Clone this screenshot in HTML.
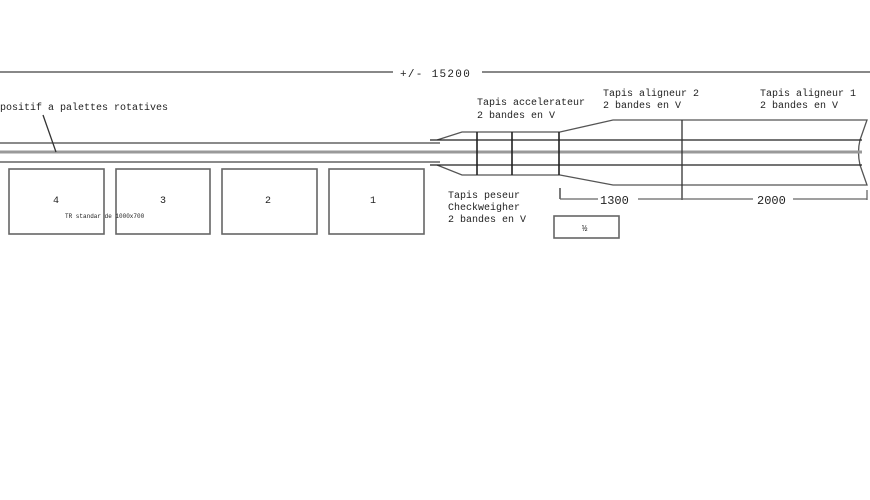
<!DOCTYPE html>
<html><head><meta charset="utf-8"><style>
html,body{margin:0;padding:0;background:#fff;}
svg{display:block}
text{font-family:"Liberation Mono",monospace;fill:#222;}
</style></head><body>
<svg width="870" height="500" viewBox="0 0 870 500" xmlns="http://www.w3.org/2000/svg">
<g stroke="#555" fill="none" stroke-width="1.3">
<line x1="0" y1="72" x2="393" y2="72" stroke="#888" stroke-width="2"/>
<line x1="482" y1="72" x2="870" y2="72" stroke="#888" stroke-width="2"/>
<line x1="0" y1="143" x2="440" y2="143" stroke="#444"/>
<line x1="0" y1="152" x2="440" y2="152" stroke="#999" stroke-width="3"/>
<line x1="0" y1="162" x2="440" y2="162" stroke="#444"/>
<line x1="43" y1="115" x2="56" y2="152" stroke="#333"/>
<rect x="9" y="169" width="95" height="65" stroke="#666" stroke-width="1.6"/>
<rect x="116" y="169" width="94" height="65" stroke="#666" stroke-width="1.6"/>
<rect x="222" y="169" width="95" height="65" stroke="#666" stroke-width="1.6"/>
<rect x="329" y="169" width="95" height="65" stroke="#666" stroke-width="1.6"/>
<polyline points="437,140 462,132 560,132 613,120 867,120 860,140" stroke="#555"/>
<polyline points="437,165 462,175 560,175 613,185 867,185 860,165" stroke="#555"/>
<path d="M860,140 Q857,152 860,165" stroke="#555"/>
<line x1="430" y1="140" x2="862" y2="140" stroke="#222"/>
<line x1="430" y1="152" x2="862" y2="152" stroke="#999" stroke-width="3"/>
<line x1="430" y1="165" x2="862" y2="165" stroke="#222"/>
<line x1="477" y1="132" x2="477" y2="175" stroke="#222" stroke-width="1.6"/>
<line x1="512" y1="132" x2="512" y2="175" stroke="#222" stroke-width="1.6"/>
<line x1="559" y1="132" x2="559" y2="175" stroke="#222" stroke-width="1.6"/>
<line x1="682" y1="120" x2="682" y2="200" stroke="#333"/>
<line x1="560" y1="188" x2="560" y2="199" stroke="#333"/>
<line x1="560" y1="199" x2="867" y2="199" stroke="#666"/>
<line x1="867" y1="190" x2="867" y2="200" stroke="#666"/>
<rect x="554" y="216" width="65" height="22" stroke="#666" stroke-width="1.6"/>
</g>
<rect x="393" y="66" width="89" height="12" fill="#fff"/>
<text x="400" y="77" font-size="11" letter-spacing="1.3">+/- 15200</text>
<rect x="598" y="194" width="40" height="10" fill="#fff"/>
<text x="600" y="204" font-size="12">1300</text>
<rect x="753" y="194" width="40" height="10" fill="#fff"/>
<text x="757" y="204" font-size="12">2000</text>
<text x="0" y="110" font-size="10">positif a palettes rotatives</text>
<g font-size="10" style="font-family:'Liberation Sans',sans-serif">
<text x="53" y="203">4</text><text x="160" y="203">3</text><text x="265" y="203">2</text><text x="370" y="203">1</text>
</g>
<text x="65" y="218" font-size="6">TR standar de 1000x700</text>
<g font-size="10">
<text x="477" y="105">Tapis accelerateur</text>
<text x="477" y="118">2 bandes en V</text>
<text x="603" y="96">Tapis aligneur 2</text>
<text x="603" y="108">2 bandes en V</text>
<text x="760" y="96">Tapis aligneur 1</text>
<text x="760" y="108">2 bandes en V</text>
<text x="448" y="198">Tapis peseur</text>
<text x="448" y="210">Checkweigher</text>
<text x="448" y="222">2 bandes en V</text>
</g>
<text x="582" y="231" font-size="9">½</text>
</svg>
</body></html>
